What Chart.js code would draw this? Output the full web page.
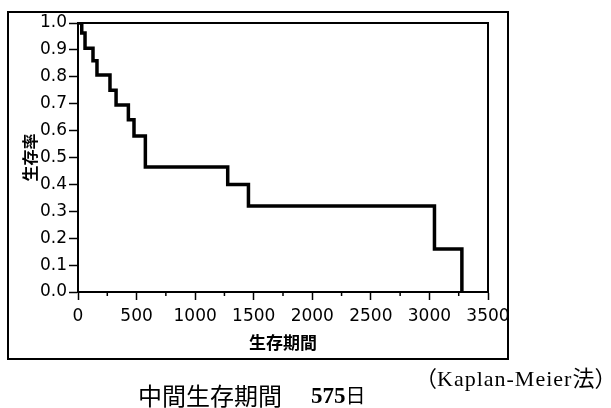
<!DOCTYPE html>
<html>
<head>
<meta charset="utf-8">
<script src="https://cdn.jsdelivr.net/npm/chart.js@4"></script>
<style>
  html, body { margin: 0; padding: 0; background: #fff; }
  #wrap { position: relative; width: 611px; height: 408px; overflow: hidden; }
  #c { position: absolute; left: 0; top: 0; }
  #frame { position: absolute; left: 7px; top: 11px; width: 502px; height: 349px; border: 2px solid #000; box-sizing: border-box; pointer-events: none; }
  .t { position: absolute; white-space: nowrap; color: #000; }
  .cj { font-family: 'Noto Sans CJK JP', sans-serif; }
</style>
</head>
<body>
<div id="wrap">
  <canvas id="c" width="611" height="408"></canvas>
  <div id="frame"></div>
  <div class="t" id="km" style="left:415px; top:364px; font-family:'Liberation Serif','Noto Sans CJK JP',serif; font-size:22px; line-height:24px;"><span class="cj">（</span><span style="letter-spacing:1px;">Kaplan-Meier</span><span class="cj">法）</span></div>
  <div class="t" style="left:138px; top:382px; font-family:'Noto Sans CJK JP',sans-serif; font-size:24px; line-height:26px;">中間生存期間</div>
  <div class="t" style="left:311px; top:383px; line-height:24px;"><span style="font-family:'Liberation Serif',serif; font-weight:bold; font-size:23px;">575</span><span style="font-family:'Noto Sans CJK JP',sans-serif; font-size:20px;">日</span></div>
</div>
<script>
// Kaplan-Meier step data
const days = [0, 32, 60, 128, 162, 273, 325, 430, 478, 575, 1278, 1455, 3043, 3277];
const survival = [1.0, 0.963, 0.906, 0.86, 0.807, 0.75, 0.695, 0.64, 0.58, 0.465, 0.40, 0.32, 0.16, 0.0];
const xTitle = '生存期間';
const yTitle = '生存率';
const xMax = 3500;
const xStep = 250;
const xLabelStep = 500;
const yStep = 0.1;

const points = days.map((d, i) => ({ x: d, y: survival[i] }));

const framePlugin = {
  id: 'framePlugin',
  afterDraw(chart) {
    const ctx = chart.ctx;
    const a = chart.chartArea;
    ctx.save();
    ctx.strokeStyle = '#000';
    ctx.lineWidth = 2;
    ctx.strokeRect(a.left, a.top, a.right - a.left, a.bottom - a.top);
    // minor x ticks (non-labelled)
    const xs = chart.scales.x;
    ctx.lineWidth = 1.5;
    xs.ticks.forEach(t => {
      if (t.value % xLabelStep !== 0) {
        const px = xs.getPixelForValue(t.value);
        ctx.beginPath();
        ctx.moveTo(px, a.bottom);
        ctx.lineTo(px, a.bottom + 4);
        ctx.stroke();
      }
    });
    ctx.restore();
  }
};

new Chart(document.getElementById('c'), {
  type: 'line',
  data: {
    datasets: [{
      data: points,
      stepped: true,
      borderColor: '#000',
      borderWidth: 3.5,
      pointRadius: 0,
      fill: false,
      borderCapStyle: 'square',
      borderJoinStyle: 'miter'
    }]
  },
  options: {
    responsive: false,
    animation: false,
    devicePixelRatio: 1,
    layout: { padding: { left: 20, top: 23, right: 123, bottom: 52 } },
    plugins: { legend: { display: false }, tooltip: { enabled: false } },
    scales: {
      x: {
        type: 'linear',
        min: 0, max: xMax,
        afterFit(s) { s.height = 64; },
        border: { display: true, color: '#000', width: 2 },
        grid: {
          drawOnChartArea: false, drawTicks: true, tickLength: 8,
          tickColor: (c) => (c.tick && c.tick.value % xLabelStep === 0) ? '#000' : 'rgba(0,0,0,0)',
          tickWidth: 1.5
        },
        ticks: {
          stepSize: xStep,
          autoSkip: false,
          maxRotation: 0,
          padding: 6,
          color: '#000',
          font: { family: 'DejaVu Sans', size: 17 },
          callback: (v) => (v % xLabelStep === 0 ? String(v) : '')
        },
        title: {
          display: true, text: xTitle, color: '#000',
          font: { family: 'Noto Sans CJK JP', size: 17, weight: 'bold' },
          padding: { top: 0, bottom: 3 }
        }
      },
      y: {
        min: 0, max: 1,
        afterFit(s) { s.width = 58; },
        border: { display: true, color: '#000', width: 2 },
        grid: { drawOnChartArea: false, drawTicks: true, tickLength: 9, tickColor: '#000', tickWidth: 1.5 },
        ticks: {
          stepSize: yStep,
          padding: 2,
          color: '#000',
          font: { family: 'DejaVu Sans', size: 17 },
          callback: (v) => Number(v).toFixed(1)
        },
        title: {
          display: true, text: yTitle, color: '#000',
          font: { family: 'Noto Sans CJK JP', size: 16, weight: 'bold' },
          padding: { top: 0, bottom: 0 }
        }
      }
    }
  },
  plugins: [framePlugin]
});
</script>
</body>
</html>
